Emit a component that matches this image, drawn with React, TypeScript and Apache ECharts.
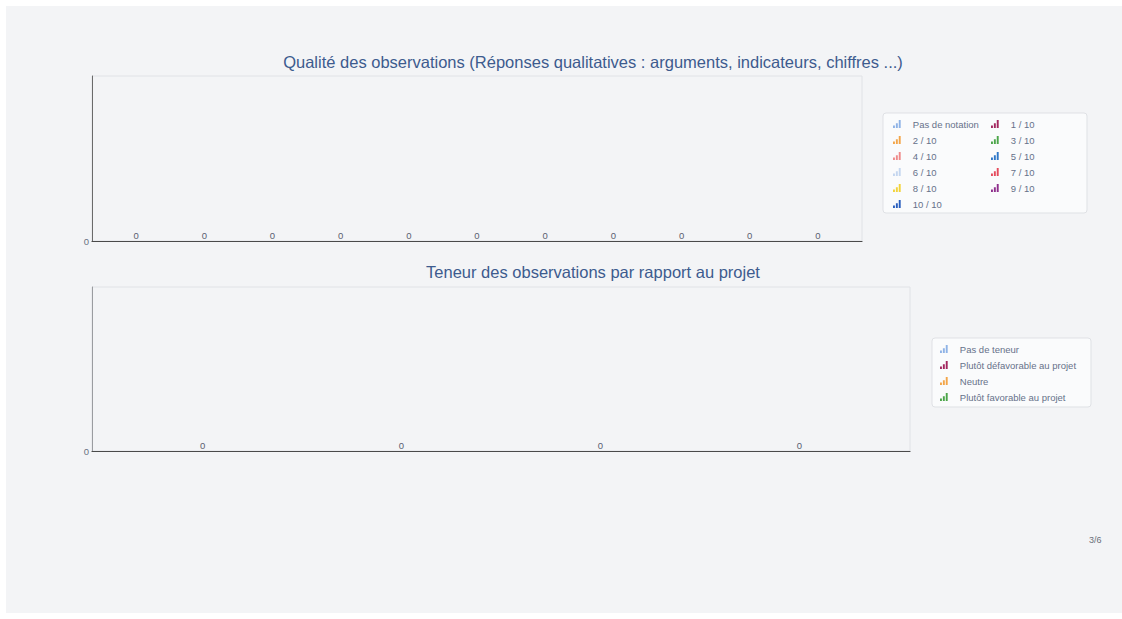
import React, { useEffect, useRef } from "react";
import * as echarts from "echarts";

const qualityTitle =
  "Qualité des observations (Réponses qualitatives : arguments, indicateurs, chiffres ...)";
const qualitySeries = [
  "Pas de notation",
  "1 / 10",
  "2 / 10",
  "3 / 10",
  "4 / 10",
  "5 / 10",
  "6 / 10",
  "7 / 10",
  "8 / 10",
  "9 / 10",
  "10 / 10",
];
const qualityValues = [0, 0, 0, 0, 0, 0, 0, 0, 0, 0, 0];
const qualityColors = [
  "#8fb3e6",
  "#a3275f",
  "#f3a64a",
  "#4ca64a",
  "#ef8a8a",
  "#2f78c8",
  "#c4d6ef",
  "#e54b5c",
  "#f2d33a",
  "#8e2f8c",
  "#2a5fbe",
];
const qualityLegendCol1 = ["Pas de notation", "2 / 10", "4 / 10", "6 / 10", "8 / 10", "10 / 10"];
const qualityLegendCol2 = ["1 / 10", "3 / 10", "5 / 10", "7 / 10", "9 / 10"];

const teneurTitle = "Teneur des observations par rapport au projet";
const teneurSeries = [
  "Pas de teneur",
  "Plutôt défavorable au projet",
  "Neutre",
  "Plutôt favorable au projet",
];
const teneurValues = [0, 0, 0, 0];
const teneurColors = ["#8fb3e6", "#a3275f", "#f3a64a", "#4ca64a"];

const yTicks = [0, 1];
const pageLabel = "3/6";

const ICON =
  "path://M0,10 L0,7 L2.4,7 L2.4,10 Z M3.6,10 L3.6,4 L6,4 L6,10 Z M7.2,10 L7.2,0 L9.6,0 L9.6,10 Z";
const FONT = "Liberation Sans, Arial, sans-serif";

export default function App() {
  const ref = useRef<HTMLDivElement>(null);
  useEffect(() => {
    if (!ref.current) return;
    const chart = echarts.init(ref.current, undefined, { renderer: "svg" });

    const legendText = {
      color: "#66718a",
      fontSize: 9.5,
      fontFamily: FONT,
      lineHeight: 11,
      padding: [0, 0, 0, 7],
    };
    const legendBase = {
      orient: "vertical",
      icon: ICON,
      itemWidth: 8,
      itemHeight: 8,
      itemGap: 5,
      textStyle: legendText,
      padding: 0,
    };

    const yAxisBase = (gridIndex: number, axisColor: string) => ({
      type: "value",
      gridIndex,
      min: yTicks[0],
      max: yTicks[yTicks.length - 1],
      interval: 1,
      axisLine: { show: true, lineStyle: { color: axisColor, width: 1 } },
      axisTick: { show: false },
      splitLine: { show: false },
      axisLabel: {
        showMaxLabel: false,
        color: "#6a7280",
        fontSize: 9.5,
        fontFamily: FONT,
        margin: 3,
        padding: [3, 0, 0, 0],
      },
    });

    const xAxisBase = (gridIndex: number) => ({
      type: "category",
      gridIndex,
      data: [""],
      axisLine: { show: true, onZero: false, lineStyle: { color: "#4a4a4a", width: 1.2 } },
      axisTick: { show: false },
      axisLabel: { show: false },
      splitLine: { show: false },
    });

    const label = {
      show: true,
      position: "top",
      distance: 1,
      color: "#5a6070",
      fontSize: 9.5,
      fontFamily: FONT,
    };

    const series: any[] = [];
    qualitySeries.forEach((name, i) => {
      series.push({
        type: "bar",
        name,
        xAxisIndex: 0,
        yAxisIndex: 0,
        data: [qualityValues[i]],
        itemStyle: { color: qualityColors[i] },
        barGap: "0%",
        barCategoryGap: "2.6%",
        label,
      });
    });
    teneurSeries.forEach((name, i) => {
      series.push({
        type: "bar",
        name,
        xAxisIndex: 1,
        yAxisIndex: 1,
        data: [teneurValues[i]],
        itemStyle: { color: teneurColors[i] },
        barGap: "0%",
        barCategoryGap: "2.7%",
        label,
      });
    });

    const titleStyle = {
      fill: "#3d5b8e",
      fontSize: 16.5,
      fontFamily: FONT,
      align: "center",
      verticalAlign: "middle",
    };

    chart.setOption({
      animation: false,
      backgroundColor: "#ffffff",
      textStyle: { fontFamily: FONT },
      graphic: [
        {
          type: "rect",
          z: -10,
          silent: true,
          shape: { x: 6, y: 6, width: 1116, height: 607 },
          style: { fill: "#f3f4f6" },
        },
        {
          type: "rect",
          z: -1,
          silent: true,
          shape: { x: 883, y: 113, width: 204, height: 100, r: 3 },
          style: { fill: "#fafbfc", stroke: "#dfe1e5", lineWidth: 1 },
        },
        {
          type: "rect",
          z: -1,
          silent: true,
          shape: { x: 932, y: 338, width: 159, height: 69, r: 3 },
          style: { fill: "#fafbfc", stroke: "#dfe1e5", lineWidth: 1 },
        },
        {
          type: "text",
          x: 593,
          y: 62,
          style: { text: qualityTitle, ...titleStyle },
        },
        {
          type: "text",
          x: 593,
          y: 272,
          style: { text: teneurTitle, ...titleStyle },
        },
        {
          type: "text",
          x: 1089,
          y: 535,
          style: { text: pageLabel, fill: "#6a6f7a", fontSize: 9, fontFamily: FONT },
        },
      ],
      legend: [
        { ...legendBase, left: 893, top: 118.5, data: qualityLegendCol1 },
        { ...legendBase, left: 991, top: 118.5, data: qualityLegendCol2 },
        { ...legendBase, left: 940, top: 343.5, data: teneurSeries },
      ],
      grid: [
        {
          left: 92,
          top: 76,
          width: 770,
          height: 165,
          show: true,
          borderColor: "#e0e2e6",
          borderWidth: 1,
          backgroundColor: "transparent",
          containLabel: false,
        },
        {
          left: 92,
          top: 287,
          width: 818,
          height: 164,
          show: true,
          borderColor: "#e0e2e6",
          borderWidth: 1,
          backgroundColor: "transparent",
          containLabel: false,
        },
      ],
      xAxis: [xAxisBase(0), xAxisBase(1)],
      yAxis: [yAxisBase(0, "#6a6a6a"), yAxisBase(1, "#9a9ca0")],
      series,
    });

    return () => chart.dispose();
  }, []);

  return (
    <div
      ref={ref}
      style={{ position: "absolute", left: 0, top: 0, width: 1122, height: 619 }}
    />
  );
}
